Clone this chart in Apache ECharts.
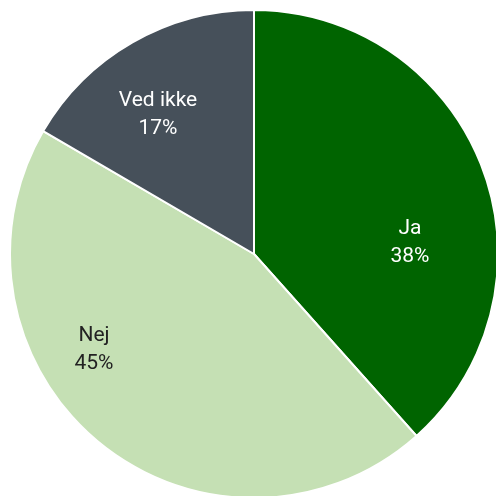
<!DOCTYPE html>
<html>
<head>
<meta charset="utf-8">
<script src="https://cdn.jsdelivr.net/npm/echarts@6/dist/echarts.min.js"></script>
<style>
  html, body { margin: 0; padding: 0; background: #fff; }
  #chart { width: 496px; height: 496px; }
</style>
</head>
<body>
<div id="chart"></div>
<script>
const categories = ['Ja', 'Nej', 'Ved ikke']
const values = [38.4, 45.0, 16.6]
const colors = ['#006400', '#c5e0b4', '#46505a']
const labelColors = ['#ffffff', '#222222', '#ffffff']
// label centres as placed in the reference
const labelPos = [[410, 243], [94, 350], [158, 115]]

const chart = echarts.init(document.getElementById('chart'))

chart.setOption({
  animation: false,
  series: [
    {
      type: 'pie',
      center: [254, 254],
      radius: 244,
      startAngle: 90,
      clockwise: true,
      data: categories.map((name, i) => ({
        name,
        value: values[i],
        itemStyle: { color: colors[i] },
        label: { color: labelColors[i] }
      })),
      itemStyle: {
        borderColor: '#ffffff',
        borderWidth: 2
      },
      label: {
        show: true,
        position: 'inside',
        fontFamily: 'Roboto',
        fontSize: 21,
        lineHeight: 28,
        formatter: p => p.name + '\n' + Math.round(p.percent) + '%'
      },
      labelLine: { show: false },
      labelLayout: p => ({
        x: labelPos[p.dataIndex][0],
        y: labelPos[p.dataIndex][1]
      })
    }
  ]
})
</script>
</body>
</html>
